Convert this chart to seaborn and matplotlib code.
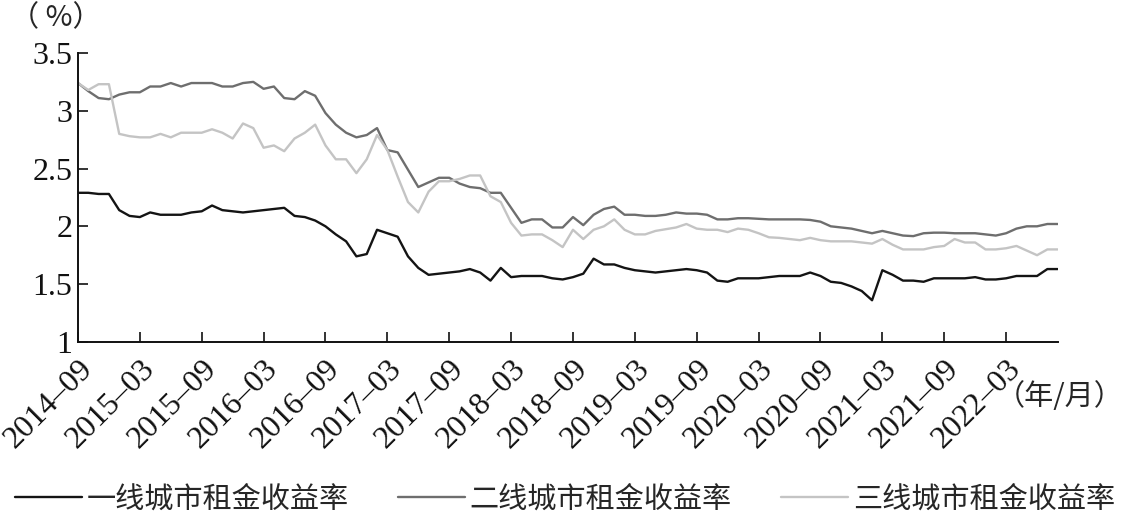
import pandas as pd
import numpy as np
import matplotlib
matplotlib.use('Agg')
import matplotlib.pyplot as plt
import seaborn as sns

# 月度数据：2014-09 至 2022-08
tier1 = [2.29, 2.29, 2.28, 2.28, 2.14, 2.09, 2.08, 2.12, 2.10, 2.10,
         2.10, 2.12, 2.13, 2.18, 2.14, 2.13, 2.12, 2.13, 2.14, 2.15,
         2.16, 2.09, 2.08, 2.05, 2.00, 1.93, 1.87, 1.74, 1.76, 1.97,
         1.94, 1.91, 1.74, 1.64, 1.58, 1.59, 1.60, 1.61, 1.63, 1.60,
         1.53, 1.64, 1.56, 1.57, 1.57, 1.57, 1.55, 1.54, 1.56, 1.59,
         1.72, 1.67, 1.67, 1.64, 1.62, 1.61, 1.60, 1.61, 1.62, 1.63,
         1.62, 1.60, 1.53, 1.52, 1.55, 1.55, 1.55, 1.56, 1.57, 1.57,
         1.57, 1.60, 1.57, 1.52, 1.51, 1.48, 1.44, 1.36, 1.62, 1.58,
         1.53, 1.53, 1.52, 1.55, 1.55, 1.55, 1.55, 1.56, 1.54, 1.54,
         1.55, 1.57, 1.57, 1.57, 1.63, 1.63]
tier2 = [3.24, 3.17, 3.11, 3.10, 3.14, 3.16, 3.16, 3.21, 3.21, 3.24,
         3.21, 3.24, 3.24, 3.24, 3.21, 3.21, 3.24, 3.25, 3.19, 3.21,
         3.11, 3.10, 3.17, 3.13, 2.98, 2.88, 2.81, 2.77, 2.79, 2.85,
         2.66, 2.64, 2.49, 2.34, 2.38, 2.42, 2.42, 2.37, 2.34, 2.33,
         2.29, 2.29, 2.16, 2.03, 2.06, 2.06, 1.99, 1.99, 2.08, 2.01,
         2.10, 2.15, 2.17, 2.10, 2.10, 2.09, 2.09, 2.10, 2.12, 2.11,
         2.11, 2.10, 2.06, 2.06, 2.07, 2.07, 2.065, 2.06, 2.06, 2.06,
         2.06, 2.055, 2.04, 2.00, 1.99, 1.98, 1.96, 1.94, 1.96, 1.94,
         1.92, 1.915, 1.94, 1.945, 1.945, 1.94, 1.94, 1.94, 1.93, 1.92,
         1.94, 1.98, 2.00, 2.00, 2.02, 2.02]
tier3 = [3.24, 3.18, 3.23, 3.23, 2.80, 2.78, 2.77, 2.77, 2.80, 2.77,
         2.81, 2.81, 2.81, 2.84, 2.81, 2.76, 2.89, 2.85, 2.68, 2.70,
         2.65, 2.76, 2.81, 2.88, 2.70, 2.58, 2.58, 2.46, 2.58, 2.79,
         2.66, 2.43, 2.21, 2.12, 2.30, 2.39, 2.39, 2.41, 2.44, 2.44,
         2.26, 2.21, 2.03, 1.92, 1.93, 1.93, 1.88, 1.82, 1.97, 1.89,
         1.97, 2.00, 2.06, 1.97, 1.93, 1.93, 1.96, 1.975, 1.99, 2.02,
         1.98, 1.97, 1.97, 1.95, 1.98, 1.97, 1.94, 1.905, 1.90, 1.89,
         1.88, 1.90, 1.88, 1.87, 1.87, 1.87, 1.86, 1.85, 1.89, 1.84,
         1.80, 1.80, 1.80, 1.82, 1.83, 1.89, 1.86, 1.86, 1.80, 1.80,
         1.81, 1.83, 1.79, 1.75, 1.80, 1.80]

series_names = ['一线城市租金收益率', '二线城市租金收益率', '三线城市租金收益率']
series_colors = ['#141414', '#6e6e6e', '#c4c4c4']
x_labels = ['2014–09', '2015–03', '2015–09', '2016–03', '2016–09', '2017–03',
            '2017–09', '2018–03', '2018–09', '2019–03', '2019–09', '2020–03',
            '2020–09', '2021–03', '2021–09', '2022–03']
y_ticks = [1, 1.5, 2, 2.5, 3, 3.5]
y_labels = ['1', '1.5', '2', '2.5', '3', '3.5']

sns.set_style('ticks')
plt.rcParams['font.family'] = ['Liberation Serif', 'Noto Sans CJK SC', 'DejaVu Sans']
plt.rcParams['axes.unicode_minus'] = False

# 整理成长表
n = len(tier1)
df = pd.DataFrame({
    'month': np.tile(np.arange(n), 3),
    'value': tier1 + tier2 + tier3,
    'series': np.repeat(series_names, n),
})

fig = plt.figure(figsize=(11.3, 5.3), dpi=100)
ax = fig.add_axes([0.069, 0.355, 0.867, 0.545])

sns.lineplot(data=df, x='month', y='value', hue='series', hue_order=series_names,
             palette=series_colors, linewidth=1.7, ax=ax, legend=False)

ax.set_xlim(0, n - 1)
ax.set_ylim(1, 3.5)
ax.set_xticks(np.arange(0, 91, 6))
ax.set_xticklabels(x_labels, rotation=45, ha='right', rotation_mode='anchor', fontsize=23)
ax.set_yticks(y_ticks)
ax.set_yticklabels(y_labels, fontsize=23)
ax.tick_params(axis='both', direction='in', length=7, width=1.2, colors='#111111')
ax.tick_params(axis='x', pad=9)
ax.tick_params(axis='y', pad=4)
ax.set_xlabel('')
ax.set_ylabel('')
for side in ['top', 'right']:
    ax.spines[side].set_visible(False)
for side in ['left', 'bottom']:
    ax.spines[side].set_linewidth(1.4)
    ax.spines[side].set_color('#111111')

fig.text(0.049, 0.965, '（ %）', fontsize=21, ha='center', va='center',
         family=['Noto Sans CJK SC', 'DejaVu Sans'])
fig.text(0.994, 0.25, '（年/月）', fontsize=21, ha='right', va='center',
         family=['Noto Sans CJK SC', 'DejaVu Sans'])

handles = [plt.Line2D([], [], color=c, linewidth=1.7) for c in series_colors]
fig.legend(handles, series_names, loc='center', bbox_to_anchor=(0.5, 0.058), ncol=3,
           frameon=False, handlelength=2.3, handletextpad=0.15,
           columnspacing=1.7, borderaxespad=0, borderpad=0,
           prop={'family': ['Noto Sans CJK SC'], 'size': 21})

plt.savefig('out.png', dpi=100)
